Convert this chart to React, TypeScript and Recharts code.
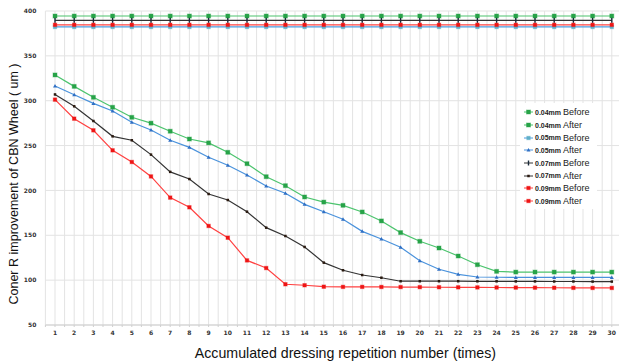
import React from 'react';
import { LineChart, Line, XAxis, YAxis, CartesianGrid, Legend } from 'recharts';

const categories = [1, 2, 3, 4, 5, 6, 7, 8, 9, 10, 11, 12, 13, 14, 15, 16, 17, 18, 19, 20, 21, 22, 23, 24, 25, 26, 27, 28, 29, 30];
const xTicks = [0.5, 1, 1.5, 2, 2.5, 3, 3.5, 4, 4.5, 5, 5.5, 6, 6.5, 7, 7.5, 8, 8.5, 9, 9.5, 10, 10.5, 11, 11.5, 12, 12.5, 13, 13.5, 14, 14.5, 15, 15.5, 16, 16.5, 17, 17.5, 18, 18.5, 19, 19.5, 20, 20.5, 21, 21.5, 22, 22.5, 23, 23.5, 24, 24.5, 25, 25.5, 26, 26.5, 27, 27.5, 28, 28.5, 29, 29.5, 30, 30.5];
const yTicks = [50, 100, 150, 200, 250, 300, 350, 400];

const before04 = [394.4, 394.4, 394.4, 394.4, 394.4, 394.4, 394.4, 394.4, 394.4, 394.4, 394.4, 394.4, 394.4, 394.4, 394.4, 394.4, 394.4, 394.4, 394.4, 394.4, 394.4, 394.4, 394.4, 394.4, 394.4, 394.4, 394.4, 394.4, 394.4, 394.4];
const after04 = [328.7, 316, 303.8, 292.7, 281.5, 275, 266, 257.3, 253, 242.5, 229.8, 215.3, 205.3, 192.7, 187, 183.4, 176, 166, 153, 143.3, 135.8, 126.9, 117.2, 109.8, 109, 109, 109, 109, 109, 109];
const before05 = [382.2, 382.2, 382.2, 382.2, 382.2, 382.2, 382.2, 382.2, 382.2, 382.2, 382.2, 382.2, 382.2, 382.2, 382.2, 382.2, 382.2, 382.2, 382.2, 382.2, 382.2, 382.2, 382.2, 382.2, 382.2, 382.2, 382.2, 382.2, 382.2, 382.2];
const after05 = [316.4, 306.7, 297, 288.5, 276, 267.4, 255.9, 248, 237, 228, 217.2, 205, 196.8, 184.5, 176.3, 167.8, 154.4, 145.9, 136.6, 121.7, 112.1, 106.5, 103.5, 103.2, 103, 103, 103, 103, 103, 103];
const before07 = [389.6, 389.6, 389.6, 389.6, 389.6, 389.6, 389.6, 389.6, 389.6, 389.6, 389.6, 389.6, 389.6, 389.6, 389.6, 389.6, 389.6, 389.6, 389.6, 389.6, 389.6, 389.6, 389.6, 389.6, 389.6, 389.6, 389.6, 389.6, 389.6, 389.6];
const after07 = [307, 293.8, 277.4, 260.3, 255.9, 239.9, 220.7, 212.7, 196, 189.3, 176.3, 158.5, 149.2, 137, 119.5, 111, 105.7, 102.7, 98.8, 98.8, 98.8, 98.8, 98.7, 98.7, 98.6, 98.6, 98.5, 98.5, 98.4, 98.4];
const before09 = [384.6, 384.6, 384.6, 384.6, 384.6, 384.6, 384.6, 384.6, 384.6, 384.6, 384.6, 384.6, 384.6, 384.6, 384.6, 384.6, 384.6, 384.6, 384.6, 384.6, 384.6, 384.6, 384.6, 384.6, 384.6, 384.6, 384.6, 384.6, 384.6, 384.6];
const after09 = [301.2, 280, 267, 244.7, 231.7, 215.6, 192, 181.2, 160.4, 147.3, 122, 113.5, 95.4, 94.3, 92.7, 92.5, 92.5, 92.4, 92.3, 92.2, 92.1, 92, 91.9, 91.8, 91.7, 91.6, 91.5, 91.4, 91.3, 91.3];

const data = categories.map((c, i) => ({
  n: c,
  b04: before04[i],
  a04: after04[i],
  b05: before05[i],
  a05: after05[i],
  b07: before07[i],
  a07: after07[i],
  b09: before09[i],
  a09: after09[i],
}));

type Shape = 'square' | 'triangle' | 'tick' | 'dot';

const drawMarker = (shape: Shape, cx: number, cy: number, fill: string, size: number, key?: any) => {
  const h = size / 2;
  if (shape === 'square') {
    return <rect key={key} x={cx - h} y={cy - h} width={size} height={size} fill={fill} stroke={fill} strokeOpacity={0.4} strokeWidth={1} />;
  }
  if (shape === 'triangle') {
    return <path key={key} d={`M${cx},${cy - h - 0.5}L${cx + h + 0.5},${cy + h}L${cx - h - 0.5},${cy + h}Z`} fill={fill} />;
  }
  if (shape === 'tick') {
    return <rect key={key} x={cx - 0.7} y={cy - 2.5} width={1.4} height={5} fill={fill} />;
  }
  return <rect key={key} x={cx - h} y={cy - h} width={size} height={size} fill={fill} />;
};

const makeDot = (shape: Shape, fill: string, size: number) => (props: any) => {
  const { cx, cy, index } = props;
  if (cx == null || cy == null) return <g key={index} />;
  return drawMarker(shape, cx, cy, fill, size, index);
};

const series = [
  { key: 'b04', mm: '0.04mm', st: 'Before', line: '#4cc46e', mark: '#27a348', shape: 'square' as Shape, size: 4 },
  { key: 'a04', mm: '0.04mm', st: 'After', line: '#4cc46e', mark: '#27a348', shape: 'square' as Shape, size: 4 },
  { key: 'b05', mm: '0.05mm', st: 'Before', line: '#4a9be0', mark: '#5fb0c8', shape: 'square' as Shape, size: 3.5 },
  { key: 'a05', mm: '0.05mm', st: 'After', line: '#4a92dc', mark: '#2f6fc4', shape: 'triangle' as Shape, size: 3 },
  { key: 'b07', mm: '0.07mm', st: 'Before', line: '#333333', mark: '#1a2a3a', shape: 'tick' as Shape, size: 3 },
  { key: 'a07', mm: '0.07mm', st: 'After', line: '#333333', mark: '#2a1a10', shape: 'dot' as Shape, size: 2.5 },
  { key: 'b09', mm: '0.09mm', st: 'Before', line: '#ff4040', mark: '#ee1515', shape: 'square' as Shape, size: 3.5 },
  { key: 'a09', mm: '0.09mm', st: 'After', line: '#ff4040', mark: '#ee1515', shape: 'square' as Shape, size: 3.5 },
];

const renderLegend = () => (
  <div style={{ background: '#ffffff', width: 77, height: 106, paddingTop: 3, boxSizing: 'border-box' }}>
    {series.map((s) => (
      <div key={s.key} style={{ height: 12.7, display: 'flex', alignItems: 'center', whiteSpace: 'nowrap', fontFamily: '"Liberation Sans", Arial, sans-serif', color: '#222' }}>
        <svg width={10} height={8} style={{ marginLeft: 4, marginRight: 1 }}>
          <line x1={0} y1={4} x2={9} y2={4} stroke={s.line} strokeWidth={1} />
          {drawMarker(s.shape, 4.5, 4, s.mark, s.size)}
        </svg>
        <span style={{ fontSize: 7, fontWeight: 'bold', marginRight: 2 }}>{s.mm}</span>
        <span style={{ fontSize: 9 }}>{s.st}</span>
      </div>
    ))}
  </div>
);

const tickStyle = { fontSize: 6, fontWeight: 'bold' as const, fill: '#333', fontFamily: '"DejaVu Sans", sans-serif' };

export default function App() {
  return (
    <div style={{ position: 'absolute', left: 0, top: 0, width: 619, height: 362, overflow: 'hidden', background: '#fff' }}>
      <LineChart width={630} height={362} data={data} margin={{ top: 11, right: 8.6, bottom: 0, left: 0.4 }}>
        <CartesianGrid stroke="#e3e3e3" horizontal={true} vertical={true} horizontalFill={[]} />
        <XAxis
          dataKey="n"
          type="number"
          domain={[0.5, 30.5]}
          ticks={xTicks}
          interval={0}
          height={37}
          axisLine={{ stroke: '#cfcfcf' }}
          tickLine={{ stroke: '#cfcfcf' }}
          tickSize={2}
          tickMargin={4}
          tick={tickStyle}
          tickFormatter={(v: number) => (Number.isInteger(v) ? String(v) : '')}
          label={{
            value: 'Accumulated dressing repetition number (times)',
            position: 'insideBottom',
            offset: 4,
            dx: 12,
            style: { fontSize: 14.2, fill: '#111', fontFamily: '"Liberation Sans", Arial, sans-serif' },
          }}
        />
        <YAxis
          type="number"
          domain={[50, 400]}
          ticks={yTicks}
          width={45}
          axisLine={false}
          tickLine={false}
          tickSize={0}
          tickMargin={9}
          tick={tickStyle}
          label={{
            content: () => (
              <text
                x={0}
                y={0}
                transform="translate(17.5,184) rotate(-90)"
                textAnchor="middle"
                style={{ fontSize: 12.5, fill: '#111', fontFamily: '"Liberation Sans", Arial, sans-serif' }}
              >
                Coner R improvement of CBN Wheel ( um )
              </text>
            ),
          }}
        />
        {series.map((s) => (
          <Line
            key={s.key}
            dataKey={s.key}
            type="linear"
            stroke={s.line}
            strokeWidth={1.2}
            dot={makeDot(s.shape, s.mark, s.size)}
            activeDot={false}
            isAnimationActive={false}
          />
        ))}
        <Legend
          layout="vertical"
          align="center"
          verticalAlign="middle"
          content={renderLegend}
          wrapperStyle={{ left: 520, top: 103, width: 77, height: 106 }}
        />
      </LineChart>
    </div>
  );
}
